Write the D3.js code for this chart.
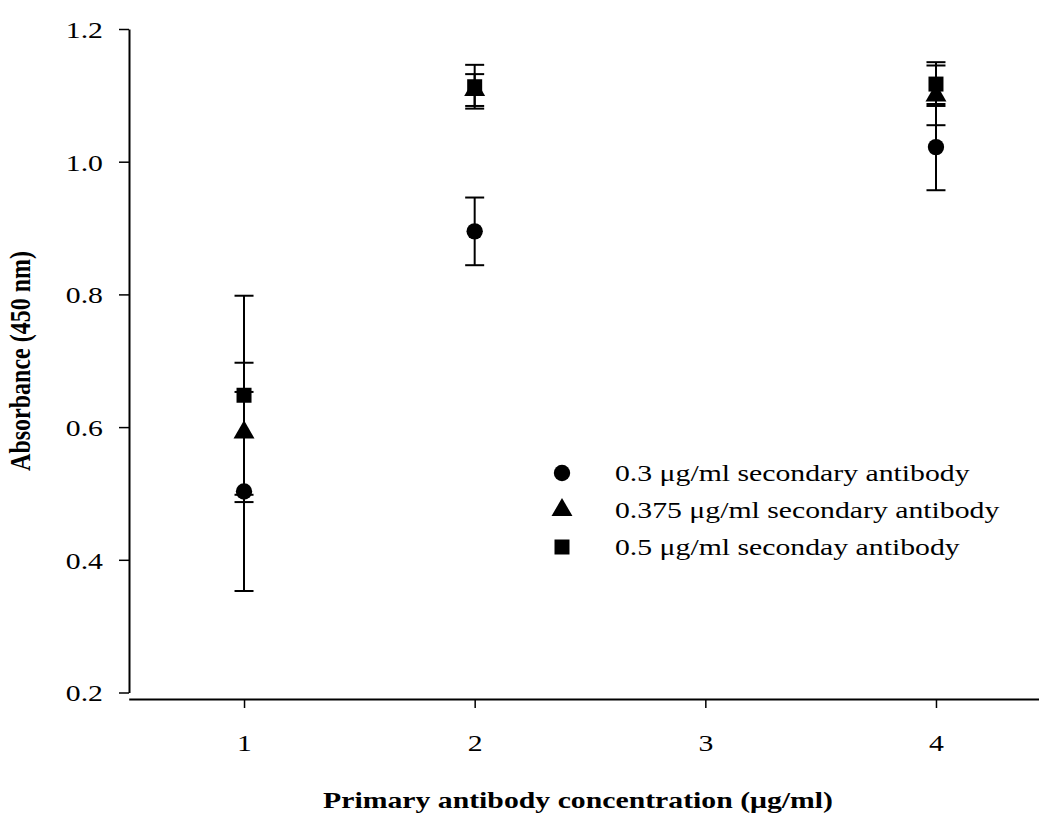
<!DOCTYPE html>
<html>
<head>
<meta charset="utf-8">
<script src="https://cdn.jsdelivr.net/npm/d3@7"></script>
<style>
  html, body { margin: 0; padding: 0; background: #fff; }
  svg { display: block; }
  text { font-family: "Liberation Serif", "Times New Roman", serif; fill: #000; }
</style>
</head>
<body>
<svg id="chart" width="1039" height="819"></svg>
<script>
// Primary antibody concentrations (µg/ml) tested
const concentrations = [1, 2, 4];

// Mean absorbance at 450 nm and error (±) per secondary antibody level
const absorbance03 = [0.503, 0.895, 1.022];
const error03 = [0.150, 0.051, 0.065];

const absorbance0375 = [0.592, 1.108, 1.100];
const error0375 = [0.105, 0.024, 0.045];

const absorbance05 = [0.648, 1.113, 1.117];
const error05 = [0.150, 0.033, 0.033];

const seriesLabels = [
  "0.3 \u03bcg/ml secondary antibody",
  "0.375 \u03bcg/ml secondary antibody",
  "0.5 \u03bcg/ml seconday antibody"
];

const xTicks = [1, 2, 3, 4];
const yTicks = [0.2, 0.4, 0.6, 0.8, 1.0, 1.2];

const series = [
  { label: seriesLabels[0], shape: d3.symbolCircle, size: 210, means: absorbance03, errors: error03 },
  { label: seriesLabels[1], shape: d3.symbolTriangle, size: 190, means: absorbance0375, errors: error0375 },
  { label: seriesLabels[2], shape: d3.symbolSquare, size: 225, means: absorbance05, errors: error05 }
];

// Text is drawn slightly wide (horizontal stretch of the glyphs)
const stretch = 1.24;
const fontSize = "24px";

const svg = d3.select("#chart");

const x = d3.scaleLinear().domain([0.5, 4.5]).range([128.7, 1051.3]);
const y = d3.scaleLinear().domain([0.2, 1.2]).range([692.5, 29]);

// Y axis
const yAxis = svg.append("g")
  .attr("transform", "translate(129,0)")
  .call(d3.axisLeft(y).tickValues(yTicks).tickFormat(d3.format(".1f")).tickSize(10).tickSizeOuter(0).tickPadding(16));
yAxis.select(".domain").attr("stroke", "#000").attr("stroke-width", 2);
yAxis.selectAll(".tick line").attr("stroke", "#000").attr("stroke-width", 1.5);
yAxis.selectAll(".tick text")
  .attr("x", 0)
  .attr("transform", `translate(-26,0) scale(${stretch},1)`)
  .style("font-size", fontSize).attr("dy", "0.35em");

// X axis
const xAxis = svg.append("g")
  .attr("transform", "translate(0,699)")
  .call(d3.axisBottom(x).tickValues(xTicks).tickFormat(d3.format("d")).tickSize(9).tickSizeOuter(0).tickPadding(26));
xAxis.select(".domain").attr("stroke", "#000").attr("stroke-width", 2);
xAxis.selectAll(".tick line").attr("stroke", "#000").attr("stroke-width", 1.5);
xAxis.selectAll(".tick text")
  .attr("transform", `scale(${stretch},1)`)
  .style("font-size", fontSize);

// Axis titles
svg.append("text")
  .attr("transform", `translate(578,808) scale(${stretch},1)`)
  .attr("text-anchor", "middle")
  .style("font-size", fontSize).style("font-weight", "bold")
  .text("Primary antibody concentration (\u03bcg/ml)");

svg.append("text")
  .attr("transform", `translate(30,361) scale(${stretch},1) rotate(-90)`)
  .attr("text-anchor", "middle")
  .style("font-size", fontSize).style("font-weight", "bold")
  .text("Absorbance (450 nm)");

// Error bars and markers
const capHalf = 9.5;
const plot = svg.append("g");

series.forEach(s => {
  const pts = concentrations.map((c, i) => ({ c, m: s.means[i], e: s.errors[i] }));
  const g = plot.append("g");
  pts.forEach(p => {
    const cx = x(p.c);
    g.append("line")
      .attr("x1", cx).attr("x2", cx)
      .attr("y1", y(p.m - p.e)).attr("y2", y(p.m + p.e))
      .attr("stroke", "#000").attr("stroke-width", 2);
    [p.m - p.e, p.m + p.e].forEach(v => {
      g.append("line")
        .attr("x1", cx - capHalf).attr("x2", cx + capHalf)
        .attr("y1", y(v)).attr("y2", y(v))
        .attr("stroke", "#000").attr("stroke-width", 2);
    });
  });
});

series.forEach(s => {
  const sym = d3.symbol().type(s.shape).size(s.size);
  plot.append("g").selectAll("path")
    .data(concentrations.map((c, i) => ({ c, m: s.means[i] })))
    .join("path")
    .attr("transform", d => `translate(${x(d.c)},${y(d.m)})`)
    .attr("d", sym)
    .attr("fill", "#000");
});

// Legend
const legend = svg.append("g");
const legendRows = [473, 510, 547];
series.forEach((s, i) => {
  legend.append("path")
    .attr("transform", `translate(562,${legendRows[i]})`)
    .attr("d", d3.symbol().type(s.shape).size(s.size))
    .attr("fill", "#000");
  legend.append("text")
    .attr("transform", `translate(615,${legendRows[i]}) scale(${stretch},1)`)
    .attr("dy", "0.35em")
    .style("font-size", fontSize)
    .text(s.label);
});
</script>
</body>
</html>
